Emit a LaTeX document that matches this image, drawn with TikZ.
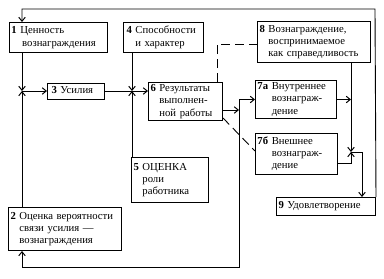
\documentclass[tikz,border=0pt]{standalone}
\usepackage{fontspec}
\setmainfont{Liberation Serif}
\usetikzlibrary{arrows.meta}
\newcommand{\lbl}[2]{\textbf{#1}~\begin{tabular}[t]{@{}l@{}}#2\end{tabular}}
\begin{document}
\begin{tikzpicture}[x=1pt,y=-1pt,
  box/.style={draw,line width=1pt,anchor=north west,inner xsep=2pt,inner ysep=0pt,
    align=left,font=\fontsize{10.7}{12.3}\selectfont},
  arr/.style={line width=0.9pt,-{Straight Barb[length=4pt,width=6.5pt,line width=1pt]}},
  ln/.style={line width=0.9pt},
  dsh/.style={line width=0.9pt,dash pattern=on 9pt off 5pt}]
\useasboundingbox (0,0) rectangle (384,279);
% boxes: (x1,y1) width height
\node[box,text width=94pt,minimum height=30pt] (n1) at (9,22) {\lbl{1}{Ценность\\\,вознаграждения}};
\node[box,text width=109pt,minimum height=43pt] (n2) at (8,207) {\lbl{2}{Оценка вероятности\\связи усилия ---\\вознаграждения}};
\node[box,text width=53pt,minimum height=16pt] (n3) at (47,83) {\hspace*{2pt}\lbl{3}{Усилия}};
\node[box,text width=76pt,minimum height=30pt] (n4) at (123,22) {\hspace*{1pt}\lbl{4}{Способности\\и характер}};
\node[box,text width=73pt,minimum height=45pt] (n5) at (131,157) {\lbl{5}{ОЦЕНКА\\роли\\работника}};
\node[box,text width=70pt,minimum height=38pt] (n6) at (148,82) {\lbl{6}{Результаты\\выполнен-\\ной работы}};
\node[box,text width=77pt,minimum height=38pt] (n7a) at (255,80) {\lbl{7а}{Внутреннее\\вознаграж-\\дение}};
\node[box,text width=78pt,minimum height=41pt] (n7b) at (255,133) {\lbl{7б}{Внешнее\\вознаграж-\\дение}};
\node[box,text width=109pt,minimum height=41pt] (n8) at (257,21) {\lbl{8}{Вознаграждение,\\воспринимаемое\\как справедливость}};
\node[box,text width=95pt,minimum height=18pt] (n9) at (276,197) {\lbl{9}{Удовлетворение}};
% junctions and bends
\coordinate (jA) at (22,91);
\coordinate (jB) at (132,91);
\coordinate (jC) at (239,110);
\coordinate (jD) at (351,152);
\coordinate (bl) at (22,267);
\coordinate (br) at (239,267);
\coordinate (d1) at (217,44);
\coordinate (r1) at (351,163);
\coordinate (r2) at (362,152);
\coordinate (t1) at (375,9);
\coordinate (t2) at (22,9);
% connectors
\draw[arr] (n1.south -| jA) -- (jA);
\draw[arr] (n2.north -| jA) -- (jA);
\draw[arr] (jA) -- (n3.west |- jA);
\draw[ln] (n3.east |- jB) -- (jB);
\draw[arr] (n4.south -| jB) -- (jB);
\draw[arr] (n5.north -| jB) -- (jB);
\draw[arr] (jB) -- (n6.west |- jB);
\draw[arr] (n6.east |- jC) -- (jC);
\draw[arr] (jC |- n7a.west) -- (n7a.west);
\draw[arr] (jC |- n7a.west) -- (br) -- (bl) -- (n2.south -| bl);
\draw[dsh] (n6.north -| d1) -- (d1) -- (n8.west |- d1);
\draw[dsh] ([yshift=3pt]n6.south east) -- ([yshift=3pt]n7b.west);
\draw[arr] (n7a.east) -- (n7a.east -| jD);
\draw[arr] (n8.south -| jD) -- (jD);
\draw[arr] (n7b.east |- r1) -- (r1) -- (jD);
\draw[arr] (jD) -- (r2) -- (n9.north -| r2);
\draw[arr] (n9.north east) -- (t1) -- (t2) -- (n1.north -| t2);
\end{tikzpicture}
\end{document}
